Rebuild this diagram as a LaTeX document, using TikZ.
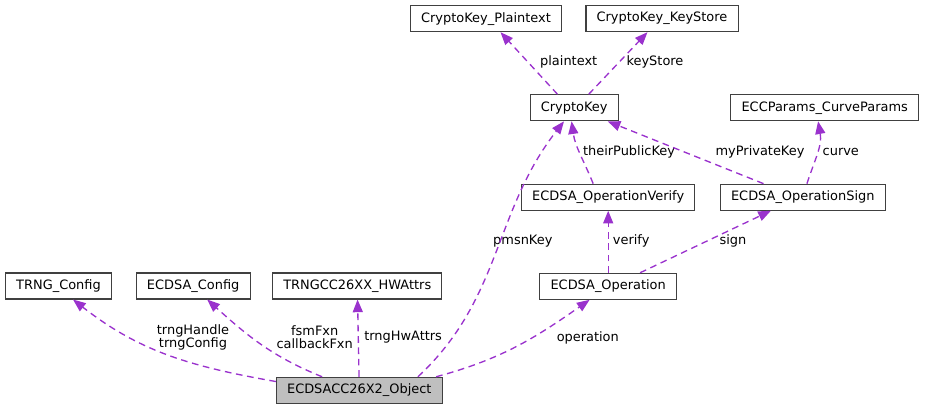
\documentclass[tikz,border=0pt]{standalone}
\usepackage{fontspec}
\setmainfont{DejaVu Sans}
\usetikzlibrary{positioning,arrows.meta}
\definecolor{memberc}{HTML}{9A32CD}
\definecolor{boxline}{HTML}{404040}
\definecolor{objfill}{HTML}{BFBFBF}

\begin{document}
\begin{tikzpicture}[x=0.75pt, y=0.75pt, >={Triangle[length=9.5pt,width=7.5pt]},
    cls/.style={draw=boxline, line width=0.8pt, fill=white, inner xsep=8pt, inner ysep=0pt,
      minimum height=19.5pt, font=\fontsize{9.7}{10}\selectfont},
    member/.style={->, color=memberc, line width=1pt, dash pattern=on 5pt off 3.5pt},
    lbl/.style={align=center, inner sep=0pt, font=\fontsize{9.7}{10}\selectfont}]
  \useasboundingbox (0,0) rectangle (932,-409);

  \node[cls] (trng) at (58.5,-286) {TRNG\_Config};
  \node[cls] (ecfg) at (193.2,-286) {ECDSA\_Config};
  \node[cls] (hw) at (357.3,-286) {TRNGCC26XX\_HWAttrs};
  \node[cls, fill=objfill] (obj) at (359.3,-390.3) {ECDSACC26X2\_Object};
  \node[cls] (plain) at (486,-18.7) {CryptoKey\_Plaintext};
  \node[cls] (store) at (662,-18.7) {CryptoKey\_KeyStore};
  \node[cls] (key) at (574.2,-107.8) {CryptoKey};
  \node[cls] (curve) at (824.7,-107.8) {ECCParams\_CurveParams};
  \node[cls] (verify) at (608.2,-197.2) {ECDSA\_OperationVerify};
  \node[cls] (sign) at (802.8,-197.2) {ECDSA\_OperationSign};
  \node[cls] (op) at (608.2,-286.3) {ECDSA\_Operation};

  % member labels
  \node[lbl] (l-trng) at (193,-337.3) {trngHandle\\trngConfig};
  \node[lbl] (l-fsm) at (314.7,-337.3) {fsmFxn\\callbackFxn};
  \node[lbl, anchor=west] (l-hw) at (364,-337.3) {trngHwAttrs};
  \node[lbl] (l-pmsn) at (522.8,-240.7) {pmsnKey};
  \node[lbl] (l-op) at (587.8,-337.7) {operation};
  \node[lbl, anchor=west] (l-verify) at (612.7,-240.7) {verify};
  \node[lbl] (l-sign) at (733,-240.7) {sign};
  \node[lbl] (l-their) at (629,-151.7) {theirPublicKey};
  \node[lbl] (l-mypriv) at (760,-151.7) {myPrivateKey};
  \node[lbl] (l-curve) at (840.8,-151.7) {curve};
  \node[lbl] (l-plain) at (568.7,-62.3) {plaintext};
  \node[lbl] (l-store) at (655,-62.3) {keyStore};

  \path[member]
    (obj.174) edge[out=170, in=-38] (trng.-43)
    (obj.160) edge[out=158, in=-42] (ecfg.-44)
    (obj) edge (hw)
    (obj.13.5) edge[out=43, in=-128] (key.-127)
    (obj.10.5) edge[out=15, in=-145] (op.-144)
    (op.north) edge (verify.south)
    (op.23) edge (sign.-157)
    (verify.138) edge[out=112, in=-82] (key.-101)
    (sign.161) edge (key.-22)
    (sign.73) edge[out=72, in=-80] (curve.-116)
    (key.141) edge (plain.-43)
    (key.43) edge (store.-137);
\end{tikzpicture}
\end{document}
